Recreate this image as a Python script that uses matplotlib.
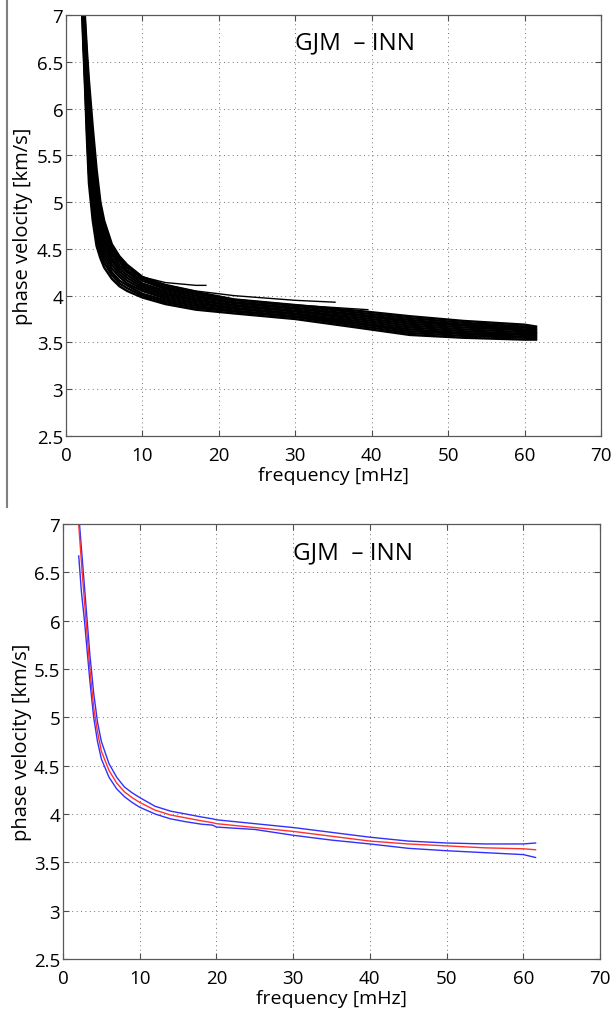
import numpy as np
import matplotlib; matplotlib.use("Agg")
import matplotlib.pyplot as plt
from matplotlib.lines import Line2D

plt.rcParams["font.family"] = ["Open Sans", "DejaVu Sans"]

# ---------------------------------------------------------------------------
# data
# ---------------------------------------------------------------------------

# top panel: bundle of single-path dispersion curves (frequency grid shared)
FREQ_TOP = [2.0, 2.25, 2.5, 2.75, 3.0, 3.5, 4.0, 4.5, 5.0, 6.0, 7.0, 8.0,
            10, 13, 17, 22, 30, 38, 45, 52, 60, 61.5]
CURVES_TOP = [
    [7.30, 6.70, 6.20, 5.65, 5.20, 4.80, 4.53, 4.40, 4.30, 4.18, 4.10, 4.05,
     3.98, 3.91, 3.85, 3.81, 3.75, 3.66, 3.58, 3.55, 3.53, 3.53],
    [7.35, 6.77, 6.28, 5.75, 5.31, 4.90, 4.61, 4.46, 4.35, 4.22, 4.13, 4.08,
     4.00, 3.93, 3.87, 3.83, 3.77, 3.68, 3.60, 3.57, 3.55, 3.54],
    [7.40, 6.83, 6.35, 5.84, 5.42, 5.00, 4.69, 4.52, 4.40, 4.25, 4.16, 4.11,
     4.02, 3.95, 3.89, 3.84, 3.78, 3.70, 3.62, 3.59, 3.56, 3.56],
    [7.45, 6.90, 6.43, 5.94, 5.53, 5.10, 4.78, 4.58, 4.45, 4.29, 4.20, 4.13,
     4.05, 3.97, 3.91, 3.86, 3.80, 3.71, 3.64, 3.60, 3.58, 3.57],
    [7.50, 6.96, 6.50, 6.03, 5.64, 5.20, 4.86, 4.64, 4.50, 4.33, 4.23, 4.16,
     4.07, 3.99, 3.93, 3.87, 3.81, 3.73, 3.66, 3.62, 3.59, 3.59],
    [7.55, 7.03, 6.58, 6.13, 5.75, 5.30, 4.94, 4.70, 4.55, 4.37, 4.26, 4.19,
     4.09, 4.01, 3.95, 3.89, 3.83, 3.75, 3.68, 3.64, 3.61, 3.60],
    [7.60, 7.09, 6.65, 6.22, 5.86, 5.40, 5.02, 4.76, 4.60, 4.40, 4.29, 4.22,
     4.11, 4.03, 3.96, 3.90, 3.84, 3.77, 3.70, 3.66, 3.63, 3.61],
    [7.65, 7.16, 6.73, 6.32, 5.97, 5.50, 5.10, 4.82, 4.65, 4.44, 4.32, 4.25,
     4.13, 4.05, 3.98, 3.92, 3.86, 3.79, 3.72, 3.68, 3.64, 3.63],
    [7.70, 7.22, 6.80, 6.41, 6.08, 5.60, 5.19, 4.88, 4.70, 4.48, 4.36, 4.27,
     4.16, 4.07, 4.00, 3.93, 3.87, 3.80, 3.74, 3.69, 3.66, 3.64],
    [7.75, 7.29, 6.88, 6.51, 6.19, 5.70, 5.27, 4.94, 4.75, 4.51, 4.39, 4.30,
     4.18, 4.09, 4.02, 3.95, 3.89, 3.82, 3.76, 3.71, 3.67, 3.66],
    [7.80, 7.35, 6.95, 6.60, 6.30, 5.80, 5.35, 5.00, 4.80, 4.55, 4.42, 4.33,
     4.20, 4.11, 4.04, 3.96, 3.90, 3.84, 3.78, 3.73, 3.69, 3.67],
]
# shorter curves that stop early
SHORT_F1 = [4.5, 5.0, 6.0, 8.0, 10, 13, 17, 18.3]
SHORT_V1 = [4.85, 4.70, 4.50, 4.30, 4.20, 4.14, 4.11, 4.11]
SHORT_F2 = [3.4, 4.0, 5.0, 6.0, 8.0, 10, 13, 17, 22, 30, 35.2]
SHORT_V2 = [5.60, 5.00, 4.70, 4.50, 4.30, 4.20, 4.12, 4.05, 4.00, 3.95, 3.93]
SHORT_F3 = [3.6, 4.0, 5.0, 6.0, 8.0, 10, 13, 17, 22, 30, 39.5]
SHORT_V3 = [5.30, 4.95, 4.62, 4.45, 4.26, 4.16, 4.08, 4.02, 3.96, 3.90, 3.85]

# bottom panel: mean curve (red) and +/- one sigma (blue)
FREQ_BOT = [1.95, 2.5, 3.0, 3.5, 4.0, 4.5, 5, 6, 7, 8, 9, 10, 12, 14, 16, 18,
            19.5, 20, 25, 30, 35, 40, 45, 50, 55, 60, 61.6]
MEAN_BOT = [7.10, 6.50, 6.00, 5.50, 5.10, 4.85, 4.65, 4.45, 4.32, 4.23, 4.17, 4.12, 4.04, 3.99,
            3.96, 3.93, 3.91, 3.90, 3.86, 3.82, 3.77, 3.72, 3.69, 3.67, 3.65, 3.64, 3.63]
UPPER_BOT = [7.20, 6.65, 6.15, 5.65, 5.25, 4.95, 4.75, 4.52, 4.38, 4.28, 4.22, 4.17, 4.08, 4.03,
             4.00, 3.97, 3.95, 3.94, 3.90, 3.86, 3.81, 3.76, 3.72, 3.70, 3.69, 3.69, 3.70]
FREQ_LOW = [2.05, 2.4, 2.8, 3.0, 3.5, 4.0, 4.5, 5, 6, 7, 8, 9, 10, 12, 14, 16, 18,
            19.5, 20, 25, 30, 35, 40, 45, 50, 55, 60, 61.6]
LOWER_BOT = [6.67, 6.30, 6.00, 5.82, 5.38, 5.00, 4.75, 4.57, 4.38, 4.26, 4.18, 4.12, 4.07, 4.00,
             3.95, 3.92, 3.895, 3.885, 3.865, 3.84, 3.78, 3.73, 3.69, 3.645, 3.62, 3.60, 3.58, 3.55]

TITLE = "GJM  \u2013 INN"


def style_axes(ax):
    ax.set_xlim(0, 70); ax.set_ylim(2.5, 7)
    ax.set_xticks(np.arange(0, 71, 10))
    ax.set_yticks(np.arange(2.5, 7.01, 0.5))
    ax.set_yticklabels(["2.5", "3", "3.5", "4", "4.5", "5", "5.5", "6", "6.5", "7"])
    ax.grid(True, color="0.45", ls=(0, (1, 3.5)), lw=0.7)
    ax.tick_params(direction="in", length=4, width=0.8, top=True, right=True,
                   labelsize=13.5, colors="0.3", labelcolor="black")
    ax.tick_params(axis="x", pad=7)
    ax.tick_params(axis="y", pad=2)
    for s in ax.spines.values():
        s.set_color("0.35"); s.set_linewidth(0.9)
    ax.set_xlabel("frequency [mHz]", fontsize=14, labelpad=2)
    ax.set_ylabel("phase velocity [km/s]", fontsize=14.5)
    ax.text(37.8, 6.71, TITLE, fontsize=17.5, ha="center", va="center")


fig = plt.figure(figsize=(6.14, 10.12), dpi=100)
ax1 = fig.add_axes([0.1075, 0.5682, 0.8713, 0.416])
ax2 = fig.add_axes([0.1026, 0.0514, 0.8746, 0.4298])

for v in CURVES_TOP:
    ax1.plot(FREQ_TOP, v, color="black", lw=1.7)
ax1.plot(SHORT_F1, SHORT_V1, color="black", lw=1.0)
ax1.plot(SHORT_F2, SHORT_V2, color="black", lw=1.0)
ax1.plot(SHORT_F3, SHORT_V3, color="black", lw=1.0)
style_axes(ax1)
ax1.yaxis.set_label_coords(-0.062, 0.5)

ax2.plot(FREQ_BOT, UPPER_BOT, color="#3030ff", lw=1.0)
ax2.plot(FREQ_LOW, LOWER_BOT, color="#3030ff", lw=1.0)
ax2.plot(FREQ_BOT, MEAN_BOT, color="#ff3030", lw=1.0)
style_axes(ax2)
ax2.yaxis.set_label_coords(-0.057, 0.5)

# grey bar at the left edge of the upper figure
fig.add_artist(Line2D([0.012, 0.012], [1.0, 1 - 508 / 1012], transform=fig.transFigure,
                      color="0.5", lw=1.5))

fig.savefig("out.png", dpi=100)
plt.close(fig)
